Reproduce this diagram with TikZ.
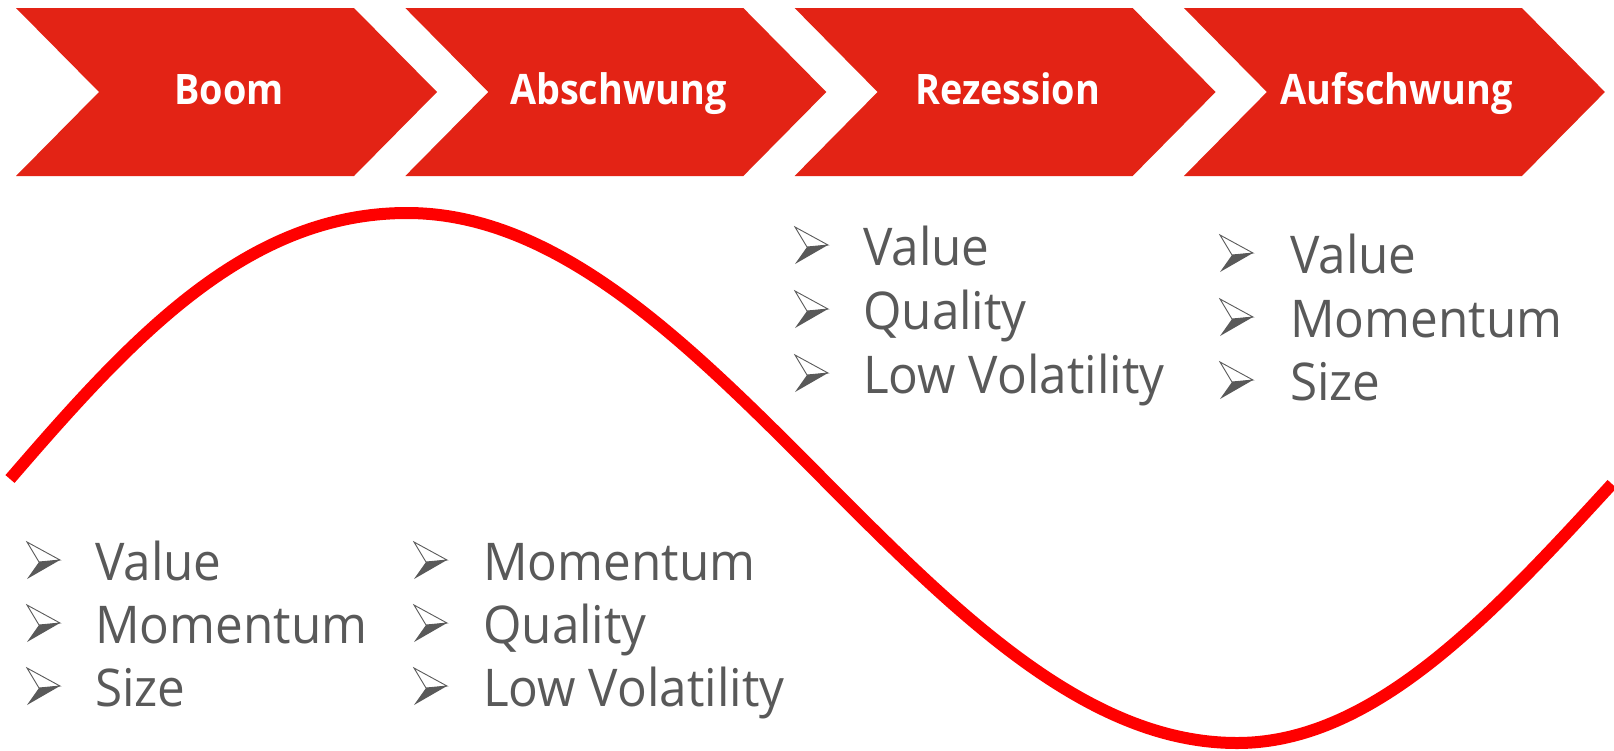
\documentclass[tikz,border=0pt]{standalone}
\usepackage{fontspec}
\setmainfont{Open Sans}
\newfontfamily\itemfont[FakeStretch=0.95]{Open Sans}
\newfontfamily\headfont[FakeStretch=0.9]{Open Sans}
\definecolor{chev}{RGB}{227,35,21}
\definecolor{txt}{RGB}{89,89,89}
\tikzset{
  chevron/.style={fill=chev, draw=none},
  head/.style={text=white, font=\headfont\bfseries\fontsize{42}{50}\selectfont, inner sep=0pt, anchor=base},
  item/.style={text=txt, font=\itemfont\fontsize{52}{60}\selectfont, inner sep=0pt, anchor=base west},
  wave/.style={draw=red, line width=12pt},
  bul/.pic={
    \fill[txt] (12,20) -- (33,18) -- (0,37) -- cycle;
    \draw[txt, line width=0.9pt, line join=miter] (0,0) -- (33,18) -- (12,20) -- cycle;
  }
}
\begin{document}
\begin{tikzpicture}[x=1pt,y=-1pt]
\useasboundingbox (0,0) rectangle (1614,750);
% chevrons
\foreach \k/\name/\lab in {0/h1/Boom,1/h2/Abschwung,2/h3/Rezession,3/h4/Aufschwung}{
  \pgfmathsetmacro{\o}{389.3*\k}
  \fill[chevron] (16+\o,8) -- (354+\o,8) -- (437+\o,92) -- (354+\o,176) -- (16+\o,176) -- (99+\o,92) -- cycle;
  \node[head] (\name) at (229+\o,104) {\lab};
}
% wave
\draw[wave] (10,479) .. controls (130,340) and (245,213) .. (407,213)
  .. controls (557,213) and (687,342) .. (822,478)
  .. controls (957,614) and (1087,743) .. (1237,743)
  .. controls (1373,743) and (1490,617) .. (1612,484);
% column 1 (Boom)
\pic at (27,542) {bul}; \node[item] (b1) at (95,580) {Value};
\pic at (27,605) {bul}; \node[item] (b2) at (95,643) {Momentum};
\pic at (27,668) {bul}; \node[item] (b3) at (95,706) {Size};
% column 2 (Abschwung)
\pic at (414,542) {bul}; \node[item] (a1) at (483,580) {Momentum};
\pic at (414,605) {bul}; \node[item] (a2) at (483,643) {Quality};
\pic at (414,668) {bul}; \node[item] (a3) at (483,706) {Low Volatility};
% column 3 (Rezession)
\pic at (795,227) {bul}; \node[item] (r1) at (863,265) {Value};
\pic at (795,291) {bul}; \node[item] (r2) at (863,329) {Quality};
\pic at (795,355) {bul}; \node[item] (r3) at (863,393) {Low Volatility};
% column 4 (Aufschwung)
\pic at (1220,235) {bul}; \node[item] (u1) at (1290,273) {Value};
\pic at (1220,299) {bul}; \node[item] (u2) at (1290,337) {Momentum};
\pic at (1220,362) {bul}; \node[item] (u3) at (1290,400) {Size};
\end{tikzpicture}
\end{document}
